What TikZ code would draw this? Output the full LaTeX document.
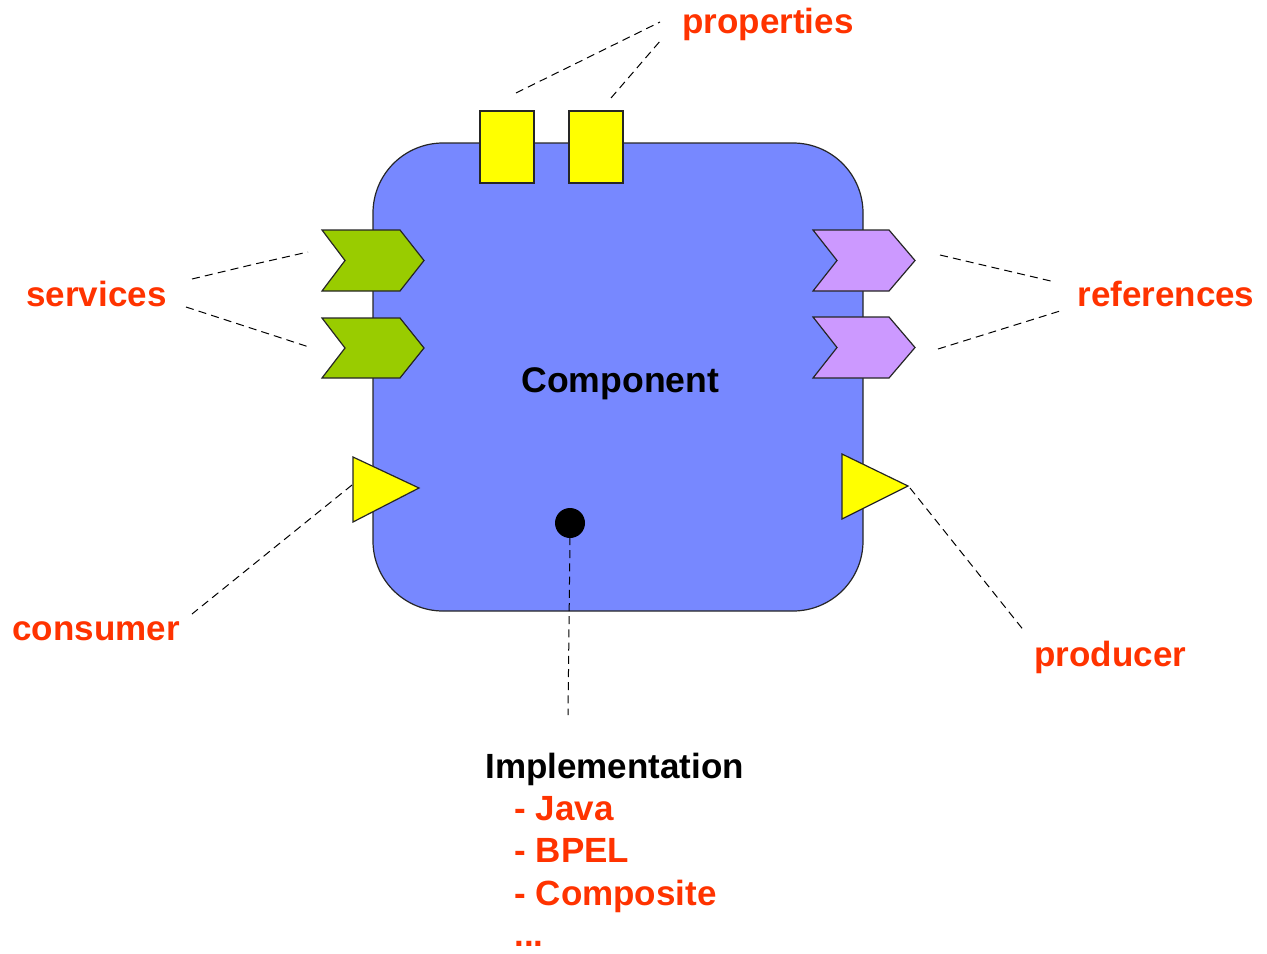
\documentclass[tikz,border=0pt]{standalone}
\usepackage{fontspec}
\setmainfont{Liberation Sans}
\definecolor{labelred}{RGB}{255,51,0}
\definecolor{bodyblue}{RGB}{119,136,255}
\definecolor{svcgreen}{RGB}{153,204,0}
\definecolor{refpurple}{RGB}{204,153,255}
\definecolor{propyellow}{RGB}{255,255,0}
\tikzset{
  lbl/.style={font=\bfseries\fontsize{17.5}{21}\selectfont, text=labelred, inner sep=0pt, anchor=base west},
  blk/.style={lbl, text=black},
  lead/.style={draw=black, dash pattern=on 4pt off 2.6pt, line width=0.5pt},
  outline/.style={draw=black!85, line width=0.6pt, line join=miter},
}
\begin{document}
\begin{tikzpicture}[x=0.5pt, y=-0.5pt]
\useasboundingbox (0,0) rectangle (1267,953);

% component body
\path[outline, fill=bodyblue, rounded corners=35pt] (373,143) rectangle (863,611);

% property slots
\path[outline, fill=propyellow] (480,111) rectangle (534,183);
\path[outline, fill=propyellow] (569,111) rectangle (623,183);

% service chevrons
\path[outline, fill=svcgreen] (322,230) -- (400,230) -- (424,260.5) -- (400,291) -- (322,291) -- (345,260.5) -- cycle;
\path[outline, fill=svcgreen] (322,318) -- (400,318) -- (424,348) -- (400,378) -- (322,378) -- (345,348) -- cycle;

% reference chevrons
\path[outline, fill=refpurple] (813,230) -- (889,230) -- (915,260.5) -- (889,291) -- (813,291) -- (837,260.5) -- cycle;
\path[outline, fill=refpurple] (813,317) -- (889,317) -- (915,347.5) -- (889,378) -- (813,378) -- (837,347.5) -- cycle;

% consumer and producer triangles
\path[outline, fill=propyellow] (353,457) -- (419,488) -- (353,522) -- cycle;
\path[outline, fill=propyellow] (842,454) -- (908,486) -- (842,519) -- cycle;

% implementation point
\fill[black] (570,523) circle (15);

% labels
\node[blk] (comp) at (521,392) {\fontsize{17.8}{21}\selectfont Component};
\node[lbl] (props) at (682,33) {properties};
\node[lbl] (svcs) at (26,306) {services};
\node[lbl] (refs) at (1077,306) {references};
\node[lbl] (cons) at (12,640) {consumer};
\node[lbl] (prod) at (1034,666) {producer};
\node[blk] (impl) at (485,778) {Implementation};
\node[lbl] (java) at (514,820) {- Java};
\node[lbl] (bpel) at (514,862) {- BPEL};
\node[lbl] (cmps) at (514,905) {- Composite};
\node[lbl] (more) at (514,946) {...};

% leader line end points
\coordinate (pA) at (516,93);  \coordinate (pB) at (611,98);
\coordinate (pA1) at (660,22); \coordinate (pB1) at (661,40);
\coordinate (sA) at (308,252); \coordinate (sB) at (309,347);
\coordinate (sA1) at (192,279); \coordinate (sB1) at (186,307);
\coordinate (rA) at (940,255); \coordinate (rB) at (938,349);
\coordinate (rA1) at (1055,282); \coordinate (rB1) at (1060,311);
\coordinate (cT) at (352,485); \coordinate (cT1) at (192,614);
\coordinate (pT) at (910,488); \coordinate (pT1) at (1025,632);
\coordinate (iT) at (570,537); \coordinate (iT1) at (568,715);

% dashed leaders
\draw[lead] (pA) -- (pA1);
\draw[lead] (pB) -- (pB1);
\draw[lead] (sA1) -- (255,264) -- (sA);
\draw[lead] (sB1) -- (sB);
\draw[lead] (rA) -- (rA1);
\draw[lead] (rB) -- (rB1);
\draw[lead] (cT) -- (cT1);
\draw[lead] (pT) -- (pT1);
\draw[lead] (iT) -- (iT1);
\end{tikzpicture}
\end{document}
